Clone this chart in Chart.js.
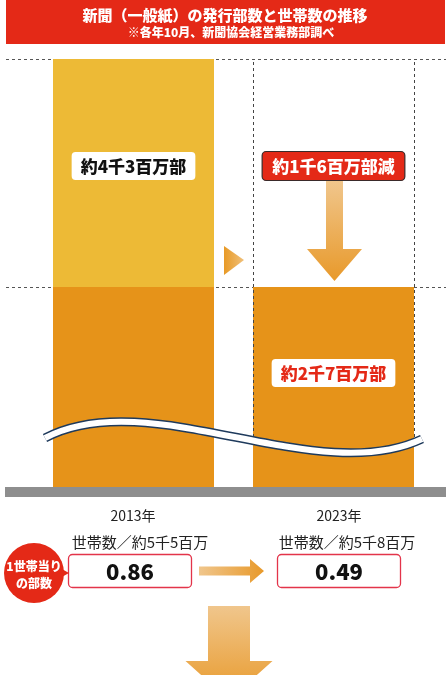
<!DOCTYPE html>
<html>
<head>
<meta charset="utf-8">
<script src="https://cdn.jsdelivr.net/npm/chart.js@4/dist/chart.umd.min.js"></script>
<style>
  html, body { margin: 0; padding: 0; background: #fff; }
  canvas { display: block; }
</style>
</head>
<body>
<canvas id="chart" width="446" height="675"></canvas>
<script>
// 万部 / 万世帯
const years = ['2013年', '2023年'];
const circulation = [4300, 2700];
const households = [5500, 5800];
const perHousehold = [0.86, 0.49];

const YELLOW = '#EDBA36';
const ORANGE = '#E69319';
const RED = '#E42917';
const JP = '"Noto Sans CJK JP", "Noto Sans", sans-serif';

// lower part = level of the latest year, upper part = the decrease
const latest = circulation[circulation.length - 1];
const lowerPart = circulation.map(v => Math.min(v, latest));
const decreasePart = circulation.map(v => Math.max(v - latest, 0));

function kanjiAmount(v) {
    const th = Math.floor(v / 1000);
    const hu = Math.floor((v % 1000) / 100);
    return '約' + th + '千' + (hu ? hu + '百' : '') + '万';
}

function roundRect(ctx, x, y, w, h, r) {
    ctx.beginPath();
    ctx.moveTo(x + r, y);
    ctx.arcTo(x + w, y, x + w, y + h, r);
    ctx.arcTo(x + w, y + h, x, y + h, r);
    ctx.arcTo(x, y + h, x, y, r);
    ctx.arcTo(x, y, x + w, y, r);
    ctx.closePath();
}

function labelBox(ctx, text, cx, cy, opts) {
    ctx.font = opts.font;
    const w = ctx.measureText(text).width + opts.pad * 2;
    const h = opts.h;
    roundRect(ctx, cx - w / 2, cy - h / 2, w, h, 4);
    ctx.fillStyle = opts.bg;
    ctx.fill();
    if (opts.border) {
        ctx.lineWidth = 1.2;
        ctx.strokeStyle = opts.border;
        ctx.stroke();
    }
    ctx.fillStyle = opts.color;
    ctx.textAlign = 'center';
    ctx.textBaseline = 'middle';
    ctx.fillText(text, cx, cy + 1);
}

function downArrow(ctx, cx, y0, y1, shaftW, headW, headH, c0, c1) {
    const g = ctx.createLinearGradient(0, y0, 0, y1);
    g.addColorStop(0, c0);
    g.addColorStop(1, c1);
    ctx.beginPath();
    ctx.moveTo(cx - shaftW / 2, y0);
    ctx.lineTo(cx + shaftW / 2, y0);
    ctx.lineTo(cx + shaftW / 2, y1 - headH);
    ctx.lineTo(cx + headW / 2, y1 - headH);
    ctx.lineTo(cx, y1);
    ctx.lineTo(cx - headW / 2, y1 - headH);
    ctx.lineTo(cx - shaftW / 2, y1 - headH);
    ctx.closePath();
    ctx.fillStyle = g;
    ctx.fill();
}

function rightArrow(ctx, x0, x1, cy, shaftH, headH, headW, c0, c1) {
    const g = ctx.createLinearGradient(x0, 0, x1, 0);
    g.addColorStop(0, c0);
    g.addColorStop(1, c1);
    ctx.beginPath();
    ctx.moveTo(x0, cy - shaftH / 2);
    ctx.lineTo(x1 - headW, cy - shaftH / 2);
    ctx.lineTo(x1 - headW, cy - headH / 2);
    ctx.lineTo(x1, cy);
    ctx.lineTo(x1 - headW, cy + headH / 2);
    ctx.lineTo(x1 - headW, cy + shaftH / 2);
    ctx.lineTo(x0, cy + shaftH / 2);
    ctx.closePath();
    ctx.fillStyle = g;
    ctx.fill();
}

const backdrop = {
    id: 'backdrop',
    beforeDatasetsDraw(chart) {
        const ctx = chart.ctx;
        const y = chart.scales.y;
        ctx.save();
        // title bar
        ctx.fillStyle = RED;
        ctx.fillRect(6, 0, 439, 44);
        ctx.fillStyle = '#fff';
        ctx.textAlign = 'center';
        ctx.textBaseline = 'middle';
        ctx.font = '900 15px ' + JP;
        ctx.fillText('新聞（一般紙）の発行部数と世帯数の推移', 225, 15);
        ctx.font = '900 12px ' + JP;
        ctx.fillText('※各年10月、新聞協会経営業務部調べ', 231, 32);

        // dashed reference lines at each year's level
        ctx.strokeStyle = '#555';
        ctx.lineWidth = 1;
        ctx.setLineDash([3, 3]);
        circulation.forEach(v => {
            const py = Math.round(y.getPixelForValue(v)) + 0.5;
            ctx.beginPath();
            ctx.moveTo(6, py);
            ctx.lineTo(446, py);
            ctx.stroke();
        });
        ctx.restore();
    },
    afterDatasetsDraw(chart) {
        const ctx = chart.ctx;
        const y = chart.scales.y;
        const meta = chart.getDatasetMeta(0);
        const bar0 = meta.data[0];
        const bar1 = meta.data[1];
        const half = bar1.width / 2;
        const topY = y.getPixelForValue(circulation[0]);
        const lvlY = y.getPixelForValue(latest);
        ctx.save();

        // ghost outline of the 2023 bar
        ctx.strokeStyle = '#444';
        ctx.lineWidth = 1;
        ctx.setLineDash([3, 3]);
        [bar1.x - half, bar1.x + half].forEach(px => {
            px = Math.round(px) + 0.5;
            ctx.beginPath();
            ctx.moveTo(px, topY + 3);
            ctx.lineTo(px, 446);
            ctx.stroke();
        });
        ctx.setLineDash([]);

        // small triangle between bars
        const tg = ctx.createLinearGradient(224, 0, 244, 0);
        tg.addColorStop(0, '#E89A26');
        tg.addColorStop(1, '#F0C07A');
        ctx.beginPath();
        ctx.moveTo(224, lvlY - 41);
        ctx.lineTo(244, lvlY - 27);
        ctx.lineTo(224, lvlY - 12);
        ctx.closePath();
        ctx.fillStyle = tg;
        ctx.fill();

        // decrease arrow
        downArrow(ctx, bar1.x + 1, 181, lvlY - 6, 17, 55, 32, '#F0C68C', '#E8992A');

        // bar labels
        labelBox(ctx, kanjiAmount(circulation[0]) + '部', bar0.x, 166,
            { font: '900 17px ' + JP, pad: 9, h: 28, bg: '#fff', color: '#111' });
        labelBox(ctx, kanjiAmount(circulation[0] - latest) + '部減', bar1.x, 166,
            { font: '900 17px ' + JP, pad: 10, h: 29, bg: RED, border: '#3a2a2a', color: '#fff' });
        labelBox(ctx, kanjiAmount(latest) + '部', bar1.x, 373,
            { font: '900 17px ' + JP, pad: 9, h: 28, bg: '#fff', color: RED });

        // axis break wave
        const wave = () => {
            ctx.beginPath();
            ctx.moveTo(45, 438);
            ctx.bezierCurveTo(149, 383, 316, 489, 422, 439);
        };
        wave();
        ctx.strokeStyle = '#1E3A5C';
        ctx.lineWidth = 9;
        ctx.stroke();
        wave();
        ctx.strokeStyle = '#fff';
        ctx.lineWidth = 6;
        ctx.stroke();

        // ground bar
        ctx.fillStyle = '#8E8E8E';
        ctx.fillRect(5, 487, 441, 10);

        // lower panel: years, households, copies per household
        const colText = [133, 339];
        const colHH = [140, 347];
        const boxX = [68, 277];
        ctx.textAlign = 'center';
        ctx.textBaseline = 'middle';
        years.forEach((lbl, i) => {
            ctx.fillStyle = '#222';
            ctx.font = '14px ' + JP;
            ctx.fillText(lbl, colText[i], 516);
            ctx.font = '15px ' + JP;
            ctx.fillText('世帯数／' + kanjiAmount(households[i]), colHH[i], 542);
            roundRect(ctx, boxX[i] + 0.5, 554.5, 123, 33, 4);
            ctx.fillStyle = '#fff';
            ctx.fill();
            ctx.strokeStyle = '#E3344A';
            ctx.lineWidth = 1.3;
            ctx.stroke();
            ctx.fillStyle = '#111';
            ctx.font = '900 22px ' + JP;
            ctx.fillText(perHousehold[i].toFixed(2), boxX[i] + 62, 572);
        });

        rightArrow(ctx, 199, 264, 571, 9, 24, 14, '#F0C68C', '#E8992A');

        // red badge
        ctx.fillStyle = RED;
        ctx.beginPath();
        ctx.arc(34, 573, 30, 0, Math.PI * 2);
        ctx.fill();
        ctx.beginPath();
        ctx.moveTo(60, 568);
        ctx.lineTo(69, 573);
        ctx.lineTo(60, 578);
        ctx.fill();
        ctx.fillStyle = '#fff';
        ctx.font = '900 12px ' + JP;
        ctx.fillText('1世帯当り', 34, 566);
        ctx.fillText('の部数', 34, 583);

        // big arrow at the bottom
        downArrow(ctx, 229, 606, 700, 42, 87, 39, '#F0C68C', '#E8992A');

        ctx.restore();
    }
};

new Chart(document.getElementById('chart'), {
    type: 'bar',
    data: {
        labels: years,
        datasets: [
            { label: '2023年水準', data: lowerPart, backgroundColor: ORANGE },
            { label: '減少分', data: decreasePart, backgroundColor: YELLOW }
        ]
    },
    options: {
        responsive: false,
        animation: false,
        categoryPercentage: 1,
        barPercentage: 0.805,
        layout: { padding: { left: 33.5, right: 12.5, top: 59, bottom: 185 } },
        scales: {
            x: { stacked: true, display: false },
            y: { stacked: true, display: false, min: 1275, max: 4300 }
        },
        plugins: { legend: { display: false }, tooltip: { enabled: false } }
    },
    plugins: [backdrop]
});
</script>
</body>
</html>
